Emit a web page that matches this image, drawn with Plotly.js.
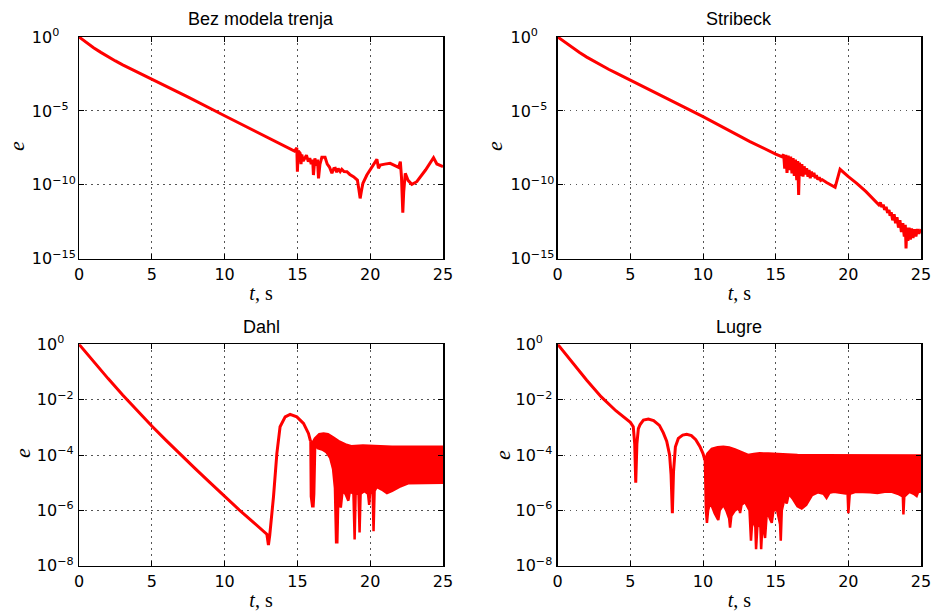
<!DOCTYPE html>
<html>
<head>
<meta charset="utf-8">
<script src="https://cdn.plot.ly/plotly-3.0.1.min.js"></script>
<style>html,body{margin:0;padding:0;background:#fff;}#chart{width:933px;height:612px;}</style>
</head>
<body>
<div id="chart"></div>
<script>
// ---------------- data (t in s, log10(e)) ----------------
const panelTitles = ["Bez modela trenja", "Stribeck", "Dahl", "Lugre"];
const xTickVals = [0, 5, 10, 15, 20, 25];
const yTicksTop = [0, -5, -10, -15];
const yTicksBottom = [0, -2, -4, -6, -8];

// Bez modela trenja
const bezPts = [[0,0],[0.5,-0.37],[1,-0.72],[1.5,-1.04],[2,-1.34],[2.5,-1.62],[3,-1.88],[3.5,-2.12],[4,-2.36],[5,-2.82],
 [6,-3.32],[7.5,-4.07],[10,-5.33],[12.5,-6.56],[14,-7.3],
 [14.5,-7.55],[14.8,-7.72],[14.96,-7.5],[15.0,-9.11],[15.06,-7.7],[15.19,-7.87],[15.25,-8.6],[15.3,-7.95],[15.4,-8.4],
 [15.5,-8.21],[15.62,-8.0],[15.75,-8.43],[15.85,-8.2],[15.95,-8.6],[16.05,-8.3],[16.1,-9.34],[16.2,-8.21],[16.3,-8.7],
 [16.38,-8.3],[16.45,-9.56],[16.55,-8.6],[16.68,-8.14],[16.9,-8.14],[17.05,-8.6],[17.2,-8.8],[17.37,-9.22],[17.5,-8.9],
 [17.6,-8.88],[17.7,-9.15],[17.8,-8.9],[17.94,-9.11],[18.05,-8.95],[18.2,-9.1],[18.4,-9.11],[18.6,-9.3],[18.85,-9.45],
 [19.12,-9.68],[19.22,-10.3],[19.31,-10.92],[19.4,-10.4],[19.5,-9.9],[19.77,-9.34],[20.1,-8.85],[20.46,-8.28],[20.57,-8.88],
 [20.69,-8.66],[21.0,-8.6],[21.37,-8.55],[21.7,-8.7],[21.95,-8.82],[22.07,-8.43],[22.15,-9.5],[22.24,-11.88],[22.3,-10.5],
 [22.41,-9.22],[22.6,-9.7],[22.86,-9.97],[23.2,-9.79],[23.8,-9.0],[24.35,-8.17],[24.58,-8.59],[24.8,-8.7],[25.0,-8.77]];

// Stribeck
const stribeckPts = [[0,0],[0.5,-0.37],[1,-0.72],[1.5,-1.05],[2,-1.36],[2.5,-1.65],[3,-1.92],[3.5,-2.18],[4,-2.43],[5,-2.91],
 [7.5,-4.15],[10,-5.39],[12.5,-6.7],[13.23,-7.08],
 [15.0,-7.92],[15.42,-8.1],[15.55,-7.95],[15.62,-8.9],[15.7,-7.98],[15.78,-9.2],[15.86,-8.02],[15.95,-9.0],[16.03,-8.1],
 [16.12,-9.22],[16.2,-8.2],[16.28,-9.4],[16.36,-8.3],[16.45,-9.68],[16.52,-8.4],[16.58,-10.69],[16.64,-8.5],[16.72,-9.4],
 [16.8,-8.6],[16.88,-9.45],[16.96,-8.75],[17.05,-9.3],[17.13,-8.88],[17.22,-9.45],[17.3,-9.0],[17.38,-9.56],[17.46,-9.1],
 [17.55,-9.45],[17.63,-9.2],[17.72,-9.55],[17.8,-9.35],[17.9,-9.65],[18.0,-9.5],[18.1,-9.7],[18.2,-9.65],[18.5,-9.85],
 [19.09,-10.17],[19.43,-8.95],[20.0,-9.45],[20.58,-9.9],[21.2,-10.45],[21.6,-10.85],[21.95,-11.14],[22.1,-11.35],[22.2,-11.2],
 [22.3,-11.5],[22.4,-11.35],[22.5,-11.7],[22.6,-11.5],[22.7,-11.9],[22.8,-11.7],[22.87,-12.1],[22.95,-11.85],[23.05,-12.4],
 [23.15,-12.0],[23.25,-12.6],[23.35,-12.2],[23.45,-12.9],[23.55,-12.4],[23.65,-13.2],[23.75,-12.6],[23.85,-13.5],[23.92,-12.7],
 [23.97,-14.3],[24.02,-12.9],[24.1,-13.8],[24.18,-12.9],[24.27,-13.7],[24.35,-12.95],[24.45,-13.6],[24.55,-13.0],[24.65,-13.5],
 [24.75,-13.0],[24.85,-13.3],[25,-13.0]];

// Dahl: single trajectory, then dense oscillation band (upper / lower envelope)
const dahlPts = [[0,0],[1,-0.63],[2,-1.24],[3,-1.83],[4,-2.4],[5,-2.95],[6,-3.48],[7,-4.0],[8,-4.5],[9,-5.0],[10,-5.5],
 [11,-5.98],[12,-6.44],[12.9,-6.86],[13.01,-7.25],[13.1,-6.9],[13.36,-5.5],[13.59,-3.94],
 [13.81,-2.98],[14.16,-2.62],[14.5,-2.53],[14.96,-2.62],[15.42,-2.86],[15.76,-3.22],[15.9,-3.5]];
const dahlUpper = [[15.9,-3.5],[16.05,-3.55],[16.2,-3.4],[16.5,-3.25],[16.8,-3.22],[17.1,-3.25],[17.5,-3.38],[17.9,-3.52],
 [18.3,-3.62],[18.7,-3.68],[19.5,-3.66],[20.5,-3.68],[21.5,-3.7],[25,-3.7]];
const dahlLower = [[15.9,-3.5],[15.93,-5.5],[16.02,-5.85],[16.1,-5.85],[16.15,-5.4],[16.22,-3.6],[16.4,-3.75],[16.7,-3.8],
 [17.0,-3.9],[17.25,-4.1],[17.45,-4.5],[17.58,-5.2],[17.66,-7.15],[17.74,-7.15],[17.82,-5.3],[17.98,-5.9],[18.1,-5.3],
 [18.3,-5.4],[18.5,-5.65],[18.6,-5.3],[18.85,-5.4],[18.93,-7.05],[19.0,-5.4],[19.2,-5.4],[19.27,-6.8],[19.34,-5.4],
 [19.6,-5.3],[19.85,-5.4],[19.93,-5.8],[20.0,-5.3],[20.17,-5.4],[20.23,-6.75],[20.3,-5.3],[20.45,-5.15],[20.8,-5.25],
 [21.15,-5.38],[21.5,-5.3],[22.0,-5.15],[22.6,-5.02],[25,-5.0]];

// Lugre
const lugrePts = [[0,0],[1,-0.65],[2,-1.3],[3,-1.9],[4,-2.4],[5,-2.82],[5.2,-2.98],[5.3,-3.6],[5.37,-5.0],[5.45,-3.6],
 [5.55,-3.05],[5.67,-2.9],[5.9,-2.74],[6.24,-2.7],[6.6,-2.76],[7.0,-2.93],[7.27,-3.2],[7.5,-3.5],[7.7,-4.0],[7.8,-4.7],
 [7.89,-6.1],[7.97,-4.6],[8.1,-3.7],[8.3,-3.4],[8.6,-3.28],[8.88,-3.25],[9.2,-3.3],[9.5,-3.45],[9.79,-3.7],[10.0,-3.95],
 [10.13,-4.18]];
const lugreUpper = [[10.13,-4.18],[10.3,-3.95],[10.6,-3.78],[11.0,-3.72],[11.4,-3.7],[11.8,-3.73],[12.2,-3.8],[12.6,-3.88],
 [13.1,-4.0],[13.5,-3.96],[13.9,-3.94],[14.5,-3.95],[15.5,-3.98],[16.5,-4.0],[18,-4.01],[21,-4.02],[25,-4.02]];
const lugreLower = [[10.13,-4.18],[10.2,-6.0],[10.27,-6.45],[10.35,-6.0],[10.5,-5.7],[10.8,-6.1],[11.0,-6.3],[11.05,-6.35],
 [11.15,-6.0],[11.4,-5.8],[11.6,-6.0],[11.8,-6.3],[11.86,-6.62],[11.95,-6.2],[12.2,-6.0],[12.5,-5.9],[12.55,-6.1],
 [12.65,-5.8],[12.9,-5.7],[13.2,-6.0],[13.3,-7.1],[13.4,-6.3],[13.6,-6.6],[13.65,-7.4],[13.75,-6.5],[13.95,-6.6],
 [14.0,-7.4],[14.1,-6.4],[14.27,-7.0],[14.4,-6.0],[14.6,-6.3],[14.73,-6.45],[14.85,-6.0],[15.1,-6.0],[15.3,-6.5],
 [15.35,-7.1],[15.42,-6.0],[15.6,-5.6],[15.76,-5.75],[15.9,-5.4],[16.2,-5.6],[16.5,-5.85],[16.79,-5.93],[17.1,-5.8],
 [17.5,-5.45],[17.9,-5.35],[18.3,-5.4],[18.5,-5.55],[18.7,-5.37],[19,-5.33],[19.4,-5.35],[19.95,-5.4],[20.0,-6.1],
 [20.1,-5.4],[20.5,-5.33],[21,-5.35],[21.5,-5.35],[22,-5.37],[22.5,-5.33],[23,-5.33],[23.4,-5.4],[23.75,-5.5],
 [23.79,-6.15],[23.85,-5.5],[24.2,-5.33],[24.5,-5.4],[24.7,-5.48],[24.8,-5.34],[25,-5.32]];

// ---------------- build ----------------
const RED = '#ff0000';
const tx = p => p.map(d => d[0]);
const ey = p => p.map(d => Math.pow(10, d[1]));
function lineTrace(pts, xa, ya) {
  return {x: tx(pts), y: ey(pts), xaxis: xa, yaxis: ya, type: 'scatter', mode: 'lines',
          line: {color: RED, width: 3}, hoverinfo: 'skip'};
}
function bandTrace(up, lo, xa, ya) {
  const rev = lo.slice().reverse();
  return {x: tx(up).concat(tx(rev)), y: ey(up).concat(ey(rev)), xaxis: xa, yaxis: ya, type: 'scatter',
          mode: 'lines', fill: 'toself', fillcolor: RED, line: {color: RED, width: 2.5}, hoverinfo: 'skip'};
}
const data = [
  lineTrace(bezPts, 'x', 'y'),
  lineTrace(stribeckPts, 'x2', 'y2'),
  lineTrace(dahlPts, 'x3', 'y3'),
  bandTrace(dahlUpper, dahlLower, 'x3', 'y3'),
  lineTrace(lugrePts, 'x4', 'y4'),
  bandTrace(lugreUpper, lugreLower, 'x4', 'y4')
];

const W = 933, H = 612;
const colX = [[79/W, 443/W], [557.7/W, 921/W]];
const rowY = [[1-258.7/H, 1-37/H], [1-565.7/H, 1-344.3/H]];
const tickFont = {family: 'DejaVu Sans', size: 16, color: '#000'};
const gridCommon = {showgrid: true, gridcolor: '#555', griddash: '1.5px,4.5px', gridwidth: 1,
  showline: true, linecolor: '#000', linewidth: 1.5, mirror: 'ticks', ticks: 'inside', ticklen: 5,
  tickcolor: '#000', tickwidth: 1, zeroline: false, tickfont: tickFont, fixedrange: true};

function xAxis(c, r, anchor) {
  return Object.assign({}, gridCommon, {domain: colX[c], anchor: anchor, range: [0, 25],
    tickmode: 'array', tickvals: xTickVals, ticktext: xTickVals.map(String), ticklabelstandoff: 1,
    title: {text: '<i>t</i>, s', font: {family: 'Liberation Serif', size: 20, color: '#000'}, standoff: 2}});
}
function yAxis(c, r, anchor, ticks) {
  return Object.assign({}, gridCommon, {domain: rowY[r], anchor: anchor, type: 'log',
    range: [ticks[ticks.length-1], 0], tickmode: 'array',
    tickvals: ticks.map(v => Math.pow(10, v)),
    ticktext: ticks.map(v => '10<sup>' + (v < 0 ? '\u2212' + (-v) : '0') + '</sup>'),
    ticklabelposition: 'inside', ticklabeloverflow: 'allow',
    ticklabelstandoff: (r === 0 ? -52 : -47)});
}

// y-axis titles ("e"), placed beside each panel
const eTitles = [[16, 146], [494, 146], [22, 453], [502, 455]];

const layout = {
  width: W, height: H, margin: {l: 0, r: 0, t: 0, b: 0},
  paper_bgcolor: '#fff', plot_bgcolor: '#fff', showlegend: false,
  xaxis: xAxis(0, 0, 'y'), yaxis: yAxis(0, 0, 'x', yTicksTop),
  xaxis2: xAxis(1, 0, 'y2'), yaxis2: yAxis(1, 0, 'x2', yTicksTop),
  xaxis3: xAxis(0, 1, 'y3'), yaxis3: yAxis(0, 1, 'x3', yTicksBottom),
  xaxis4: xAxis(1, 1, 'y4'), yaxis4: yAxis(1, 1, 'x4', yTicksBottom),
  annotations: [
    {text: panelTitles[0], x: 261/W, y: 1-19/H},
    {text: panelTitles[1], x: 739.3/W, y: 1-19/H},
    {text: panelTitles[2], x: 261/W, y: 1-327/H},
    {text: panelTitles[3], x: 739.3/W, y: 1-327/H}
  ].map(a => Object.assign(a, {xref: 'paper', yref: 'paper', xanchor: 'center', yanchor: 'middle',
      showarrow: false, font: {family: 'Liberation Sans', size: 18, color: '#000'}}))
   .concat(eTitles.map(p => ({text: '<i>e</i>', x: p[0]/W, y: 1 - p[1]/H, xref: 'paper', yref: 'paper',
      xanchor: 'center', yanchor: 'middle', textangle: -90, showarrow: false,
      font: {family: 'Liberation Serif', size: 22, color: '#000'}})))
};

Plotly.newPlot('chart', data, layout, {staticPlot: true, displayModeBar: false});
</script>
</body>
</html>
